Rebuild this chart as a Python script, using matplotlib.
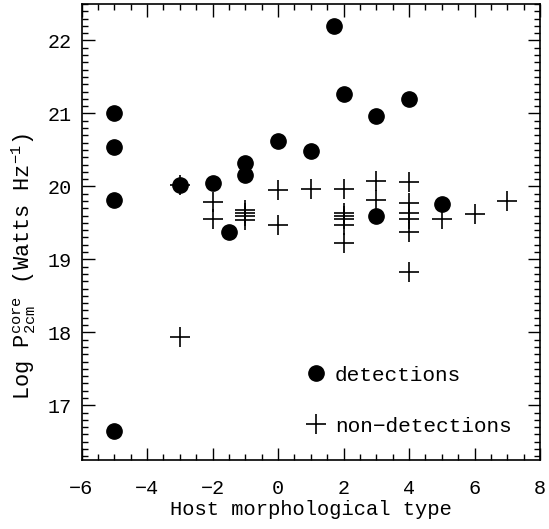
import matplotlib
matplotlib.use("Agg")
import matplotlib.pyplot as plt
from matplotlib.ticker import MultipleLocator

# detections (filled circles)
det_type = [-5, -5, -5, -5, -3, -2, -1.5, -1, -1, 0, 1, 1.7, 2, 3, 4, 3, 5]
det_logp = [21.0, 20.54, 19.81, 16.65, 20.02, 20.04, 19.37, 20.32, 20.15,
            20.62, 20.49, 22.2, 21.27, 20.97, 21.2, 19.59, 19.76]

# non-detections (plus signs)
non_type = [-3, -3, -2, -2, -1, -1, -1, -1, 0, 0, 1,
            2, 2, 2, 2, 2, 2, 3, 3,
            4, 4, 4, 4, 4, 4, 5, 6, 7]
non_logp = [20.02, 17.94, 19.78, 19.56, 19.68, 19.63, 19.59, 19.54, 19.95, 19.47, 19.97,
            19.96, 19.64, 19.60, 19.56, 19.47, 19.22, 20.08, 19.81,
            20.06, 19.77, 19.64, 19.56, 19.37, 18.83, 19.56, 19.62, 19.80]

plt.rcParams["font.family"] = ["Liberation Mono", "DejaVu Sans Mono"]
plt.rcParams["mathtext.fontset"] = "custom"
plt.rcParams["mathtext.rm"] = "Liberation Mono"
plt.rcParams["mathtext.it"] = "Liberation Mono"
plt.rcParams["axes.unicode_minus"] = True

fig = plt.figure(figsize=(5.49, 5.29), dpi=100)
ax = fig.add_axes([81.5 / 549, 1 - 460 / 529, (540 - 81.5) / 549, (460 - 4) / 529])

ax.plot(det_type, det_logp, "o", color="black", markersize=11, linestyle="none",
        label="detections")
ax.plot(non_type, non_logp, "+", color="black", markersize=15, markeredgewidth=1.2,
        linestyle="none", label="non\u2212detections")

ax.set_xlim(-6, 8)
ax.set_ylim(16.25, 22.5)
ax.xaxis.set_major_locator(MultipleLocator(2))
ax.xaxis.set_minor_locator(MultipleLocator(0.5))
ax.yaxis.set_major_locator(MultipleLocator(1))
ax.yaxis.set_minor_locator(MultipleLocator(0.1))
ax.tick_params(which="both", direction="in", top=True, right=True, width=1.0,
               labelsize=14.5, colors="black")
ax.tick_params(which="major", length=9)
ax.tick_params(which="minor", length=4.5)
ax.tick_params(axis="x", which="major", pad=14)
ax.tick_params(axis="y", which="major", pad=7)
for s in ax.spines.values():
    s.set_linewidth(1.2)

ax.set_xlabel("Host morphological type", fontsize=14.8, labelpad=1)
ax.set_ylabel(r"Log P$_{\rm 2cm}^{\rm core}$ (Watts Hz$^{-1}$)", fontsize=15.8)
ax.yaxis.set_label_coords(-0.095, 0.425)

ax.legend(loc="upper left", bbox_to_anchor=(0.465, 0.225), frameon=False, fontsize=15.2,
          handletextpad=0.3, labelspacing=1.5, handlelength=1.2, borderaxespad=0.0)

fig.savefig("out.png", dpi=100)
